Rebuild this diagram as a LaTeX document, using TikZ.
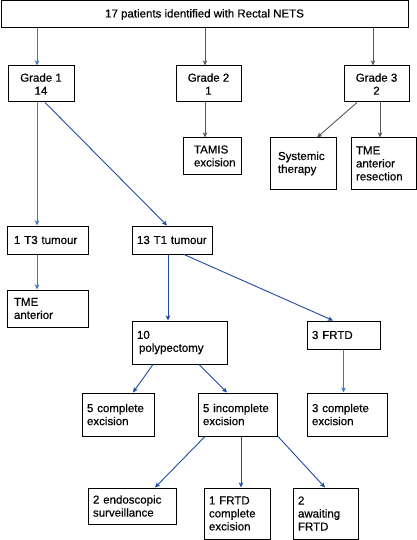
\documentclass[tikz,border=0pt]{standalone}
\usepackage{fontspec}
\setmainfont{Liberation Sans}[FakeBold=0.35]
\usetikzlibrary{arrows.meta}
\hyphenpenalty=10000
\exhyphenpenalty=10000
\definecolor{lblue}{RGB}{60,120,200}
\definecolor{dblue}{RGB}{30,75,165}
\definecolor{lgray}{RGB}{90,90,90}
\tikzset{
  box/.style={draw=black, line width=1pt, fill=white, inner xsep=6pt, inner ysep=2pt,
    font=\fontsize{11.5}{13}\selectfont},
  lbox/.style={box, align=left},
  cbox/.style={box, align=center},
  arr/.style={line width=0.9pt, -{Stealth[length=5pt,width=4.5pt,inset=1.2pt]}},
}
\newcommand{\lb}[6]{% name, cx, cy, w, h, text
  \node[lbox, minimum width=#4pt, minimum height=#5pt, inner xsep=5pt, text width=#4pt-10pt] (#1) at (#2,#3) {#6};}
\begin{document}
\begin{tikzpicture}[x=1pt,y=-1pt]
\useasboundingbox[fill=white] (0,0) rectangle (417,540);
% top
\node[cbox, minimum width=407pt, minimum height=27pt] (top) at (204.5,14.5) {17 patients identified with Rectal NETS};
% grades
\node[cbox, minimum width=66pt, minimum height=36pt] (g1) at (41,84) {Grade 1\\14};
\node[cbox, minimum width=65pt, minimum height=36pt] (g2) at (208.5,84) {Grade 2\\1};
\node[cbox, minimum width=65pt, minimum height=36pt] (g3) at (376.5,84) {Grade 3\\2};
% second row
\lb{tamis}{212}{156}{58}{36}{\hspace{6pt}TAMIS\\\hspace{6pt}excision}
\node[lbox, minimum width=66pt, minimum height=51pt, text width=50pt, inner xsep=8pt] (sys) at (303,163.5) {Systemic\\therapy};
\lb{tme3}{383.5}{163.5}{65}{51}{TME\\anterior\\resection}
% third row
\lb{t3}{47.5}{240}{81}{28}{\hspace{2pt}1 T3 tumour}
\lb{t1}{172}{240}{80}{28}{13 T1 tumour}
\lb{tmea}{47.5}{308.5}{81}{37}{\hspace{2pt}TME\\\hspace{2pt}anterior}
\lb{poly}{179.5}{342.5}{95}{43}{10\\\hspace{2pt}polypectomy}
\lb{frtd}{343.5}{335}{73}{28}{3 FRTD}
% fourth row
\lb{c5}{118}{414.5}{72}{43}{5 complete\\excision}
\lb{inc5}{237.5}{414.5}{79}{43}{5 incomplete\\excision}
\lb{c3}{347}{414.5}{80}{43}{3 complete\\excision}
% fifth row
\lb{endo}{132}{506}{88}{36}{2 endoscopic\\surveillance}
\lb{frtdc}{237}{513.5}{66}{51}{1 FRTD\\complete\\excision}
\lb{await}{325.5}{513.5}{65}{51}{2\\awaiting\\FRTD}
% connectors
\draw[arr, lblue] ([xshift=-4pt]g1.north |- top.south) -- ([xshift=-4pt]g1.north);
\draw[arr, lgray] ([xshift=-3.5pt]g2.north |- top.south) -- ([xshift=-3.5pt]g2.north);
\draw[arr, lgray] ([xshift=-3.5pt]g3.north |- top.south) -- ([xshift=-3.5pt]g3.north);
\draw[arr, lblue] ([xshift=-4pt]g1.south) -- ([xshift=-4pt]g1.south |- t3.north);
\draw[arr, dblue] ([xshift=4pt]g1.south) -- ([xshift=-5pt]t1.north);
\draw[arr, lgray] ([xshift=-3.5pt]g2.south) -- ([xshift=-3.5pt]g2.south |- tamis.north);
\draw[arr, lgray] ([xshift=-19.5pt]g3.south) -- ([xshift=14pt]sys.north);
\draw[arr, lgray] ([xshift=3.5pt]g3.south) -- ([xshift=3.5pt]g3.south |- tme3.north);
\draw[arr, lblue] ([xshift=-10.5pt]t3.south) -- ([xshift=-10.5pt]tmea.north);
\draw[arr, dblue] ([xshift=-4pt]t1.south) -- ([xshift=-4pt]t1.south |- poly.north);
\draw[arr, dblue] ([xshift=12pt]t1.south) -- ([xshift=-10.5pt]frtd.north);
\draw[arr, dblue] ([xshift=-26.5pt]poly.south) -- ([xshift=15pt]c5.north);
\draw[arr, dblue] ([xshift=19.5pt]poly.south) -- ([xshift=-10.5pt]inc5.north);
\draw[arr, lblue] (frtd.south) -- (frtd.south |- c3.north);
\draw[arr, dblue] ([xshift=-32.5pt]inc5.south) -- ([xshift=23pt]endo.north);
\draw[arr, dblue] ([xshift=3.5pt]inc5.south) -- ([xshift=3.5pt]inc5.south |- frtdc.north);
\draw[arr, dblue] ([xshift=40.5pt]inc5.south) -- ([xshift=-0.5pt]await.north);
\end{tikzpicture}
\end{document}
